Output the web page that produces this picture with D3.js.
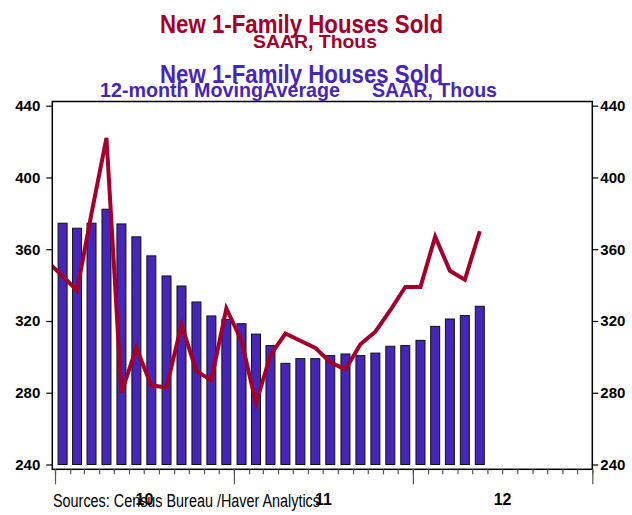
<!DOCTYPE html>
<html>
<head>
<meta charset="utf-8">
<script src="https://cdn.jsdelivr.net/npm/d3@7"></script>
<style>
  body { margin: 0; background: #fff; }
  text { font-family: 'Liberation Sans', Arial, sans-serif; }
</style>
</head>
<body>
<div id="chart"></div>
<script>
// data (thousands, SAAR)
var lineMonths = ['2009-12', '2010-01', '2010-02', '2010-03', '2010-04', '2010-05', '2010-06',
  '2010-07', '2010-08', '2010-09', '2010-10', '2010-11', '2010-12', '2011-01', '2011-02',
  '2011-03', '2011-04', '2011-05', '2011-06', '2011-07', '2011-08', '2011-09', '2011-10',
  '2011-11', '2011-12', '2012-01', '2012-02', '2012-03', '2012-04', '2012-05'];
var monthlySales = [353, 345, 337, 380, 422, 280, 305, 284, 283, 318, 292, 287, 327, 309, 274,
  301, 313, 309, 305, 297, 293, 307, 314, 326, 339, 339, 367, 348, 343, 370];

var barMonths = lineMonths.slice(1);
var movingAvg = [374.5, 371.7, 374.5, 382.3, 374.1, 366.9, 356.3, 345.1, 339.5, 330.6, 322.8,
  320.9, 318.5, 312.7, 306.3, 296.4, 299, 299, 300.7, 301.6, 300.7, 302.1, 305.9, 306.3, 309.2,
  317, 321.1, 323, 328.2];

var yTicks = [240, 280, 320, 360, 400, 440];
var yearLabels = ['10', '11', '12'];

var svgWidth = 632;
var svgHeight = 515;
var red = '#a3002c';
var blue = '#4626b8';

var frame = { left: 52.3, right: 592.3, top: 101.5, bottom: 469.3 };

var svg = d3.select('#chart')
  .append('svg')
  .attr('width', svgWidth)
  .attr('height', svgHeight);

var parse = d3.timeParse('%Y-%m');

var x = d3.scaleTime()
  .domain([new Date(2010, 0, 1), new Date(2013, 0, 1)])
  .range([55, 592.3]);

var y = d3.scaleLinear()
  .domain([240, 440])
  .range([464.5, 105.7]);

function midMonth(s) {
  var d = parse(s);
  return (x(d) + x(d3.timeMonth.offset(d, 1))) / 2;
}

svg.append('clipPath')
  .attr('id', 'plotClip')
  .append('rect')
  .attr('x', frame.left)
  .attr('y', frame.top)
  .attr('width', frame.right - frame.left)
  .attr('height', frame.bottom - frame.top);

// bars: 12-month moving average
var barW = 9;
svg.append('g')
  .selectAll('rect')
  .data(movingAvg)
  .enter()
  .append('rect')
  .attr('x', (d, i) => midMonth(barMonths[i]) - barW / 2)
  .attr('y', d => y(d))
  .attr('width', barW)
  .attr('height', d => y(240) - y(d))
  .attr('fill', blue)
  .attr('stroke', '#111')
  .attr('stroke-width', 1);

// monthly line
var line = d3.line()
  .x((d, i) => midMonth(lineMonths[i]))
  .y(d => y(d));

svg.append('path')
  .datum(monthlySales)
  .attr('clip-path', 'url(#plotClip)')
  .attr('d', line)
  .attr('fill', 'none')
  .attr('stroke', red)
  .attr('stroke-width', 4)
  .attr('stroke-linejoin', 'miter');

// frame
svg.append('rect')
  .attr('x', frame.left)
  .attr('y', frame.top)
  .attr('width', frame.right - frame.left)
  .attr('height', frame.bottom - frame.top)
  .attr('fill', 'none')
  .attr('stroke', '#000')
  .attr('stroke-width', 1.5);

// y axes
var leftAxis = d3.axisLeft(y).tickValues(yTicks).tickSize(6).tickPadding(6);
var rightAxis = d3.axisRight(y).tickValues(yTicks).tickSize(6).tickPadding(2);

var gl = svg.append('g')
  .attr('transform', `translate(${frame.left}, 0)`)
  .call(leftAxis);
var gr = svg.append('g')
  .attr('transform', `translate(${frame.right}, 0)`)
  .call(rightAxis);

[gl, gr].forEach(function(g) {
  g.select('.domain').remove();
  g.selectAll('line').attr('stroke', '#000').attr('stroke-width', 1.2);
  g.selectAll('text')
    .attr('fill', '#000')
    .style('font-size', '15px')
    .style('font-weight', 'bold')
    .style('font-family', "'Liberation Sans', Arial, sans-serif");
});

// x axis: monthly minor ticks, yearly major ticks
var minorAxis = d3.axisBottom(x)
  .tickValues(d3.timeMonth.range(new Date(2010, 0, 1), new Date(2013, 0, 2)))
  .tickSize(5)
  .tickFormat('');
var majorAxis = d3.axisBottom(x)
  .tickValues(d3.timeYear.range(new Date(2010, 0, 1), new Date(2013, 0, 2)))
  .tickSize(15)
  .tickFormat('');

[minorAxis, majorAxis].forEach(function(ax) {
  var g = svg.append('g')
    .attr('transform', `translate(0, ${frame.bottom})`)
    .call(ax);
  g.select('.domain').remove();
  g.selectAll('line').attr('stroke', '#555').attr('stroke-width', 1.2);
});

svg.append('g')
  .selectAll('text')
  .data(yearLabels)
  .enter()
  .append('text')
  .attr('x', (d, i) => (x(new Date(2010 + i, 0, 1)) + x(new Date(2011 + i, 0, 1))) / 2)
  .attr('y', 505)
  .attr('text-anchor', 'middle')
  .style('font-size', '16px')
  .style('font-weight', 'bold')
  .text(d => d);

// source note
svg.append('text')
  .attr('x', 53)
  .attr('y', 507)
  .attr('textLength', 267)
  .attr('lengthAdjust', 'spacingAndGlyphs')
  .style('font-size', '18px')
  .text('Sources:  Census Bureau /Haver Analytics');

// titles
function title(txt, x0, x1, base, size, color) {
  svg.append('text')
    .attr('x', x0)
    .attr('y', base)
    .attr('textLength', x1 - x0)
    .attr('lengthAdjust', 'spacingAndGlyphs')
    .attr('fill', color)
    .style('font-size', size + 'px')
    .style('font-weight', 'bold')
    .text(txt);
}

title('New 1-Family Houses Sold', 160, 443, 33, 25, red);
title('SAAR, Thous', 253, 377, 48, 19, red);
title('New 1-Family Houses Sold', 160, 443, 83, 25, blue);
title('12-month MovingAverage', 100, 340, 97, 21, blue);
title('SAAR, Thous', 372, 497, 97, 21, blue);
</script>
</body>
</html>
